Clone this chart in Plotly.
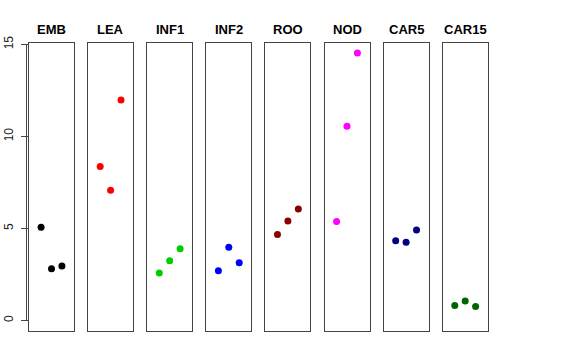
import plotly.graph_objects as go

groups = ["EMB", "LEA", "INF1", "INF2", "ROO", "NOD", "CAR5", "CAR15"]
colors = ["#000000", "#FF0000", "#00CD00", "#0000FF", "#8B0000", "#FF00FF", "#000080", "#006400"]
replicate = [1, 2, 3]
values = {
    "EMB":   [5.06, 2.80, 2.96],
    "LEA":   [8.37, 7.07, 11.98],
    "INF1":  [2.58, 3.24, 3.89],
    "INF2":  [2.69, 3.98, 3.13],
    "ROO":   [4.67, 5.40, 6.05],
    "NOD":   [5.38, 10.56, 14.53],
    "CAR5":  [4.33, 4.25, 4.91],
    "CAR15": [0.80, 1.05, 0.75],
}
y_ticks = [0, 5, 10, 15]

W, H = 576, 360
left, right, top, bottom = 29, 88, 43, 29
plot_w = W - left - right
panel_w = 45.0
step = 59.1

fig = go.Figure()
layout = dict(
    width=W, height=H,
    margin=dict(l=left, r=right, t=top, b=bottom, autoexpand=False),
    paper_bgcolor="white", plot_bgcolor="white",
    showlegend=False,
    font=dict(family="Liberation Sans, Arial, sans-serif", color="black"),
    annotations=[], shapes=[],
)
yrange = [-0.58, 15.08]
for i, g in enumerate(groups):
    n = i + 1
    xa = "x" if n == 1 else f"x{n}"
    ya = "y" if n == 1 else f"y{n}"
    d0 = (i * step) / plot_w
    d1 = (i * step + panel_w) / plot_w
    fig.add_trace(go.Scatter(
        x=replicate, y=values[g], mode="markers",
        marker=dict(color=colors[i], size=7),
        xaxis=xa, yaxis=ya, hoverinfo="skip",
    ))
    layout["xaxis" if n == 1 else f"xaxis{n}"] = dict(
        domain=[d0, min(d1, 1)], range=[-0.16, 4.16], anchor=ya,
        showgrid=False, zeroline=False, showticklabels=False, ticks="",
        showline=True, mirror=True, linecolor="#444", linewidth=1,
        automargin=False,
    )
    yax = dict(
        domain=[0, 1], range=yrange, anchor=xa,
        showgrid=False, zeroline=False, automargin=False,
        showline=True, mirror=True, linecolor="#444", linewidth=1,
    )
    if n == 1:
        yax.update(tickvals=y_ticks, ticktext=[str(t) for t in y_ticks],
                   ticks="outside", ticklen=7, tickcolor="#444",
                   ticklabelstandoff=3,
                   tickangle=-90, tickfont=dict(size=12, color="#222"))
    else:
        yax.update(showticklabels=False, ticks="")
    layout["yaxis" if n == 1 else f"yaxis{n}"] = yax
    layout["annotations"].append(dict(
        text=f"<b>{g}</b>", x=(d0 + d1) / 2, y=1.0, xref="paper", yref="paper",
        yshift=4, xanchor="center", yanchor="bottom", showarrow=False,
        font=dict(size=13, color="black"),
    ))

layout["shapes"].append(dict(
    type="line", xref="paper", yref="y", x0=-2.5 / plot_w, x1=-2.5 / plot_w,
    y0=0, y1=15, line=dict(color="#444", width=1),
))
fig.update_layout(**layout)
fig.write_html("out.html", config={"displayModeBar": False},
               post_script="document.body.style.margin='0';document.body.style.overflow='hidden';")
